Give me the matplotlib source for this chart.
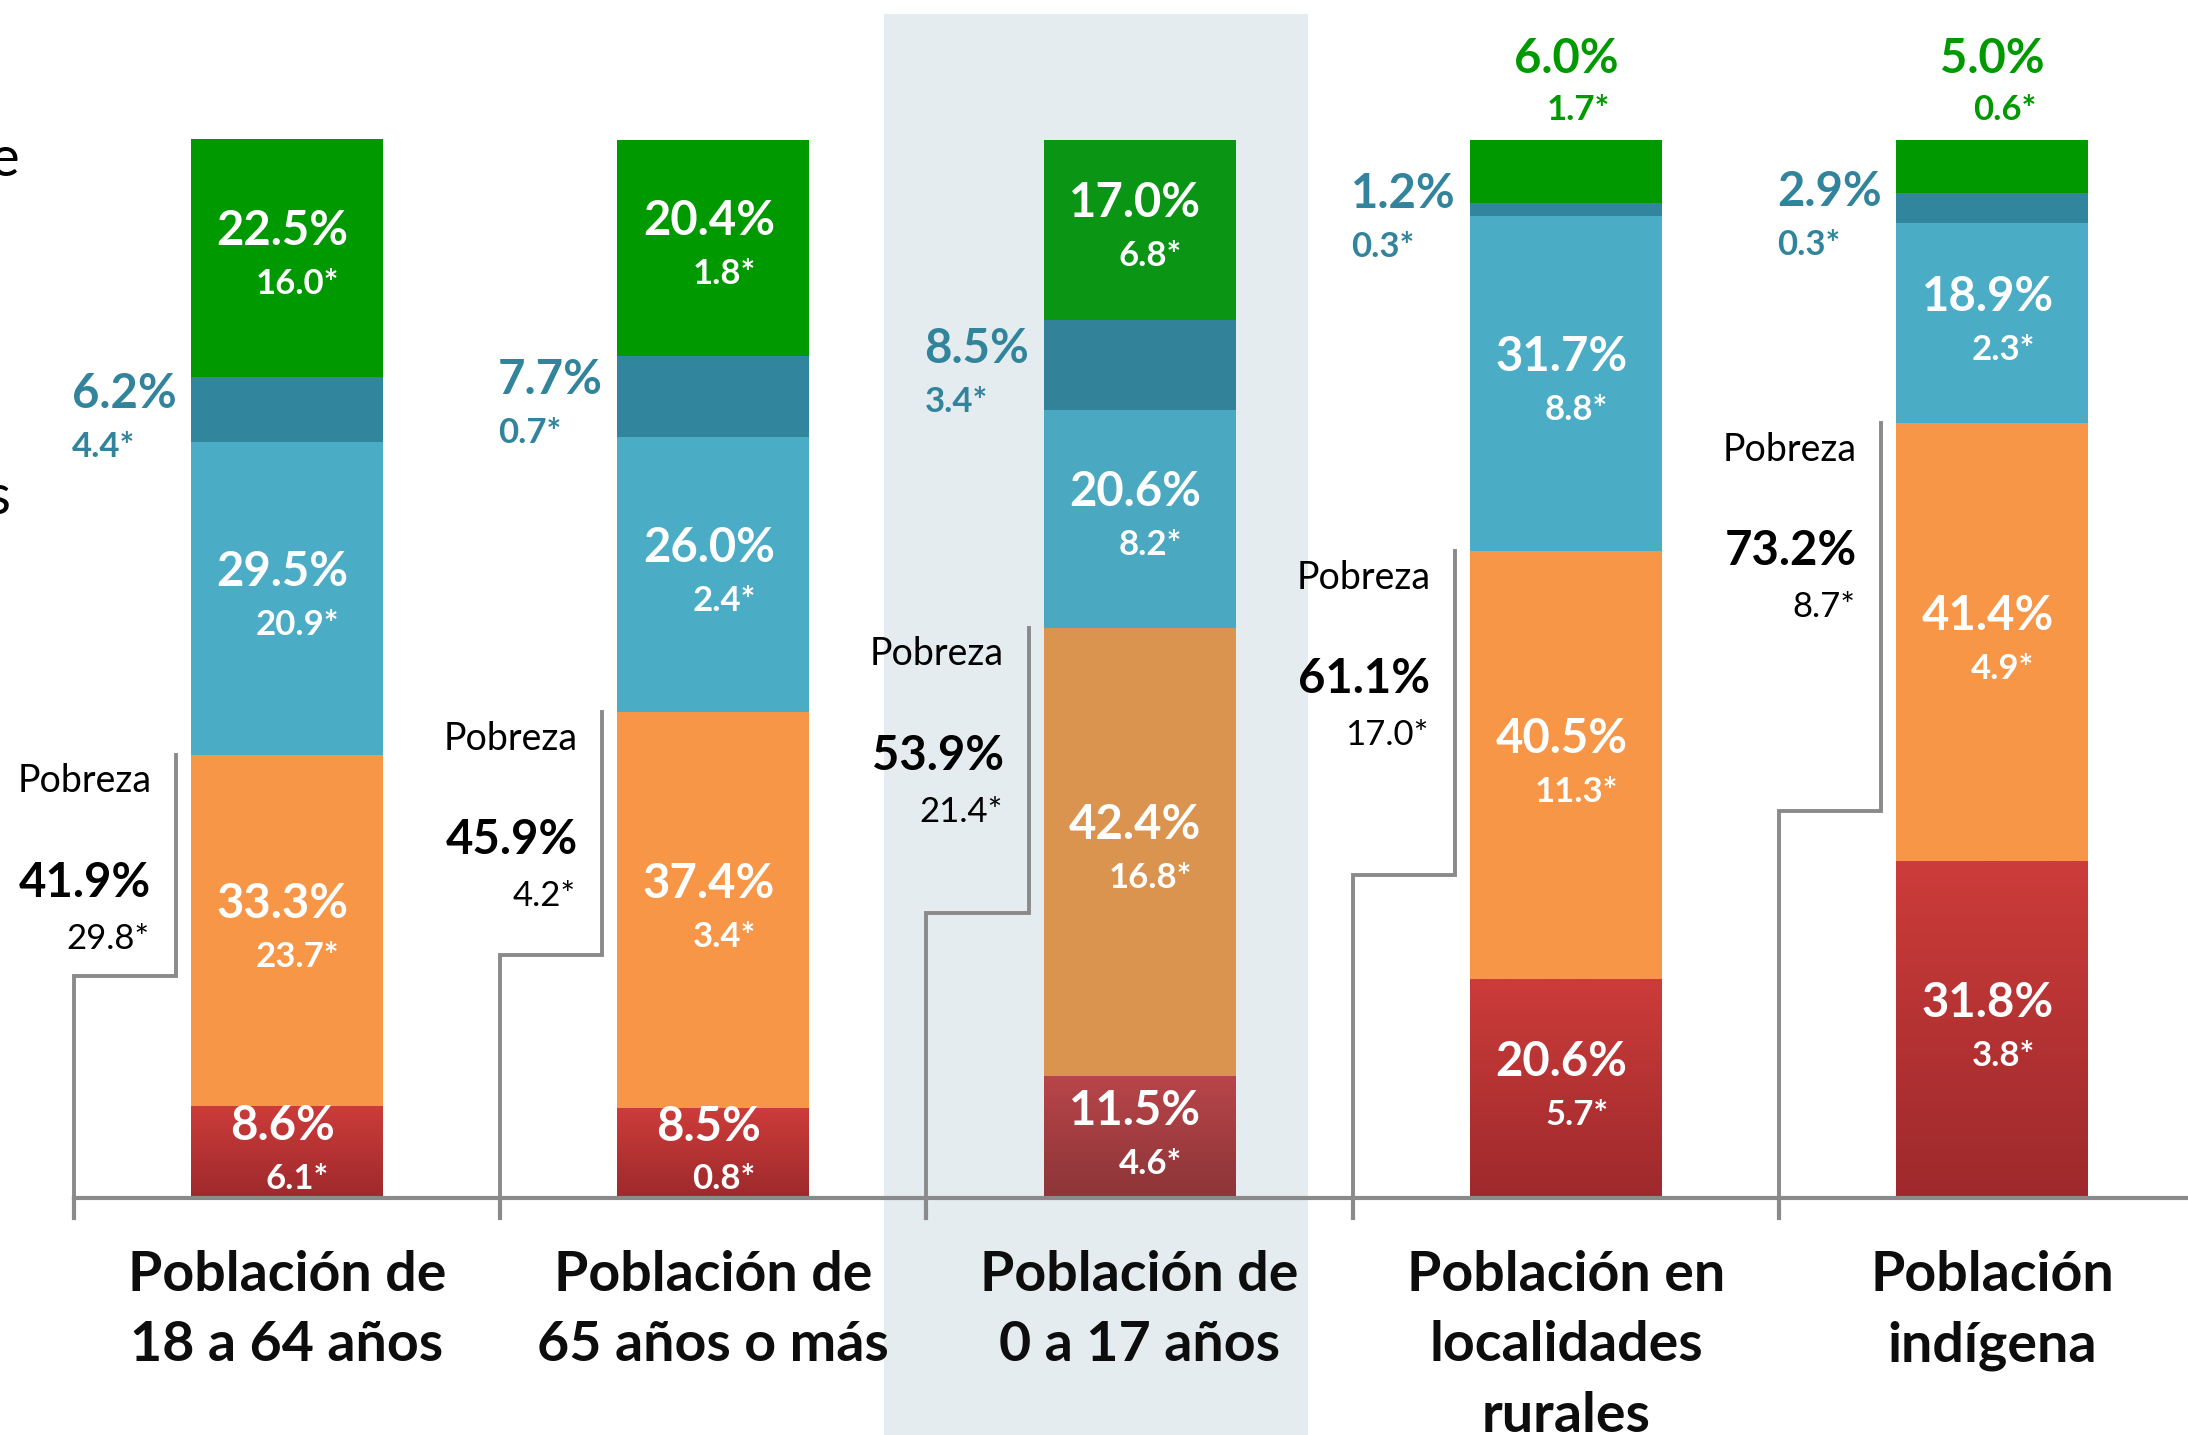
import matplotlib.pyplot as plt
import numpy as np
from matplotlib.colors import LinearSegmentedColormap
from matplotlib.patches import Rectangle

plt.rcParams['font.family'] = ['Lato', 'DejaVu Sans']

categories = ['Población de\n18 a 64 años', 'Población de\n65 años o más',
              'Población de\n0 a 17 años', 'Población en\nlocalidades\nrurales',
              'Población\nindígena']

# porcentaje de la población, de abajo hacia arriba
pobreza_extrema = [8.6, 8.5, 11.5, 20.6, 31.8]
pobreza_moderada = [33.3, 37.4, 42.4, 40.5, 41.4]
vuln_carencias = [29.5, 26.0, 20.6, 31.7, 18.9]
vuln_ingresos = [6.2, 7.7, 8.5, 1.2, 2.9]
no_pobre = [22.5, 20.4, 17.0, 6.0, 5.0]

# millones de personas
pobreza_extrema_mill = ['6.1', '0.8', '4.6', '5.7', '3.8']
pobreza_moderada_mill = ['23.7', '3.4', '16.8', '11.3', '4.9']
vuln_carencias_mill = ['20.9', '2.4', '8.2', '8.8', '2.3']
vuln_ingresos_mill = ['4.4', '0.7', '3.4', '0.3', '0.3']
no_pobre_mill = ['16.0', '1.8', '6.8', '1.7', '0.6']

pobreza_total = [41.9, 45.9, 53.9, 61.1, 73.2]
pobreza_total_mill = ['29.8', '4.2', '21.4', '17.0', '8.7']

series = [pobreza_extrema, pobreza_moderada, vuln_carencias, vuln_ingresos, no_pobre]
series_mill = [pobreza_extrema_mill, pobreza_moderada_mill, vuln_carencias_mill,
               vuln_ingresos_mill, no_pobre_mill]

colors = ['#C93B3A', '#F79646', '#4BACC6', '#31859C', '#009900']
colors_hl = ['#B54448', '#DB9450', '#4AA8C0', '#32839A', '#0A9514']
teal_txt = '#31849B'
green_txt = '#009900'
line_c = '#8A8A8A'
highlight = 2

big_fs = 34
small_fs = 25

fig = plt.figure(figsize=(21.88, 14.35), dpi=100)
ax = fig.add_axes([0, 0, 1, 1])
x = np.arange(len(categories))
w = 0.45

# panel resaltado
ax.add_patch(Rectangle((highlight - 0.6, -30), 0.994, 141.9, color='#E4ECEF', lw=0, zorder=0))

bottom = np.zeros(len(x))
for k, (vals, mills) in enumerate(zip(series, series_mill)):
    cols = [colors_hl[k] if i == highlight else colors[k] for i in x]
    ax.bar(x, vals, w, bottom=bottom, color=cols, zorder=2)
    for i in x:
        v = vals[i]
        mid = bottom[i] + v / 2
        if k == 3:
            ax.text(i - 0.505, mid + 1.5, f'{v:.1f}%', color=teal_txt, ha='left', va='center',
                    fontsize=big_fs, fontweight='bold', zorder=5)
            ax.text(i - 0.505, mid - 3.5, mills[i] + '*', color=teal_txt, ha='left', va='center',
                    fontsize=small_fs, fontweight='bold', zorder=5)
        elif k == 4 and v < 10:
            ax.text(i, 107.6, f'{v:.1f}%', color=green_txt, ha='center', va='center',
                    fontsize=big_fs, fontweight='bold', zorder=5)
            ax.text(i + 0.03, 102.8, mills[i] + '*', color=green_txt, ha='center', va='center',
                    fontsize=small_fs, fontweight='bold', zorder=5)
        else:
            ax.text(i - 0.01, mid + 2.5, f'{v:.1f}%', color='white', ha='center', va='center',
                    fontsize=big_fs, fontweight='bold', zorder=5)
            ax.text(i + 0.025, mid - 2.5, mills[i] + '*', color='white', ha='center', va='center',
                    fontsize=small_fs, fontweight='bold', zorder=5)
    bottom += np.array(vals)

# degradado en pobreza extrema
grad = np.linspace(0, 1, 200).reshape(-1, 1)
cm_red = LinearSegmentedColormap.from_list('r', ['#9E292C', '#CC3C3A'])
cm_red_hl = LinearSegmentedColormap.from_list('rh', ['#8C3538', '#B8454A'])
for i in x:
    ax.imshow(grad, extent=(i - w / 2, i + w / 2, 0, pobreza_extrema[i]), origin='lower',
              cmap=cm_red_hl if i == highlight else cm_red, aspect='auto', zorder=2.5)

# corchete de pobreza
for i in x:
    p = pobreza_total[i]
    ax.plot([i - 0.5, i - 0.5, i - 0.26, i - 0.26], [0, p / 2, p / 2, p],
            color=line_c, lw=2.8, zorder=1, solid_joinstyle='miter')
    ax.text(i - 0.318, p - 2.5, 'Pobreza', ha='right', va='center', fontsize=27, color='black')
    ax.text(i - 0.318, p - 12.1, f'{p:.1f}%', ha='right', va='center', fontsize=big_fs,
            fontweight='bold', color='black')
    ax.text(i - 0.322, p - 17.4, pobreza_total_mill[i] + '*', ha='right', va='center',
            fontsize=small_fs, color='black')

# eje
ax.plot([-0.5, 5.0], [0, 0], color=line_c, lw=3, zorder=3)
for b in np.arange(len(x)) - 0.5:
    ax.plot([b, b], [0, -1.9], color=line_c, lw=3, zorder=3)

for i, lab in enumerate(categories):
    ax.text(i, -4.9, lab, ha='center', va='top', fontsize=40, fontweight='bold',
            color='#0D0D0D', linespacing=1.5)

# leyenda recortada a la izquierda
ax.text(-0.627, 98.0, 'No pobre y no vulnerable', ha='right', va='center', fontsize=40, color='black')
ax.text(-0.647, 66.1, 'Vulnerables por carencias', ha='right', va='center', fontsize=40, color='black')

ax.set_xlim(-0.673, 4.459)
ax.set_ylim(-22.4, 113.2)
ax.axis('off')

fig.savefig('out.png', dpi=100)
